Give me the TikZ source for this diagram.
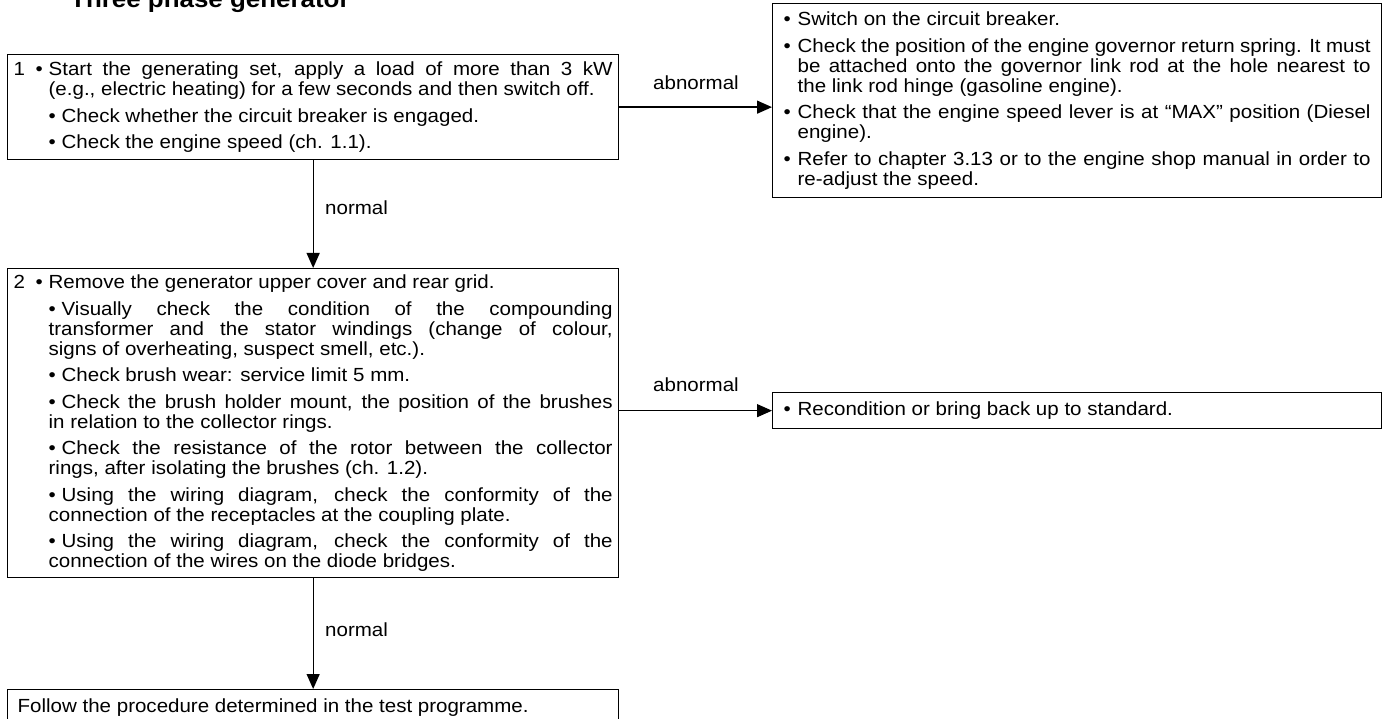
\documentclass[tikz,border=0pt]{standalone}
\usepackage{fontspec}
\setmainfont[FakeStretch=1.08]{Liberation Sans}
\usetikzlibrary{arrows.meta}
\newcommand\fs{\fontsize{19pt}{20pt}\selectfont}
\newcommand\titlefs{\fontsize{24pt}{26pt}\selectfont\bfseries}
\newcommand\JL[2]{\makebox[#1][s]{#2}}
\newcommand\NL[2]{\makebox[#1][l]{#2}}
\newcommand\bul{\makebox[13pt][l]{•}}
\newcommand\hbul{\makebox[14pt][l]{•}}
\begin{document}
\begin{tikzpicture}[x=1pt,y=-1pt,
  box/.style={draw, line width=1.3pt, inner sep=0pt, anchor=north west},
  conn/.style={line width=1.3pt, -{Triangle[length=15pt,width=13pt]}},
  lbl/.style={inner sep=0pt, font=\fs}]
\useasboundingbox (0,0) rectangle (1387,719);

\node[anchor=base west, inner sep=0pt, font=\titlefs] (title) at (70,8) {Three phase generator};

% Box 1
\node[box, minimum width=611pt, minimum height=105pt] (b1) at (7,54) {%
\begin{minipage}{599pt}\fs
\makebox[22pt][l]{1}\makebox[13pt][l]{•}\JL{564pt}{Start the generating set, apply a load of more than 3 kW}\\
\hspace*{35pt}\NL{564pt}{(e.g., electric heating) for a few seconds and then switch off.}\\[6.5pt]
\hspace*{35pt}\NL{564pt}{\bul Check whether the circuit breaker is engaged.}\\[6.5pt]
\hspace*{35pt}\NL{564pt}{\bul Check the engine speed (ch. 1.1).}
\end{minipage}};

% Right box 1
\node[box, minimum width=609pt, minimum height=194pt] (r1) at (772,3) {%
\begin{minipage}{587pt}\fs
\NL{587pt}{\hbul Switch on the circuit breaker.}\\[6.5pt]
\hbul\JL{573pt}{Check the position of the engine governor return spring. It must}\\
\hspace*{14pt}\JL{573pt}{be attached onto the governor link rod at the hole nearest to}\\
\hspace*{14pt}\NL{573pt}{the link rod hinge (gasoline engine).}\\[6.5pt]
\hbul\JL{573pt}{Check that the engine speed lever is at “MAX” position (Diesel}\\
\hspace*{14pt}\NL{573pt}{engine).}\\[6.5pt]
\hbul\JL{573pt}{Refer to chapter 3.13 or to the engine shop manual in order to}\\
\hspace*{14pt}\NL{573pt}{re-adjust the speed.}
\end{minipage}};

% Box 2
\node[box, minimum width=611pt, minimum height=309pt] (b2) at (7,268) {%
\begin{minipage}{599pt}\fs
\makebox[22pt][l]{2}\makebox[13pt][l]{•}\NL{564pt}{Remove the generator upper cover and rear grid.}\\[6.5pt]
\hspace*{35pt}\JL{564pt}{\bul Visually check the condition of the compounding}\\
\hspace*{35pt}\JL{564pt}{transformer and the stator windings (change of colour,}\\
\hspace*{35pt}\NL{564pt}{signs of overheating, suspect smell, etc.).}\\[6.5pt]
\hspace*{35pt}\NL{564pt}{\bul Check brush wear: service limit 5 mm.}\\[6.5pt]
\hspace*{35pt}\JL{564pt}{\bul Check the brush holder mount, the position of the brushes}\\
\hspace*{35pt}\NL{564pt}{in relation to the collector rings.}\\[6.5pt]
\hspace*{35pt}\JL{564pt}{\bul Check the resistance of the rotor between the collector}\\
\hspace*{35pt}\NL{564pt}{rings, after isolating the brushes (ch. 1.2).}\\[6.5pt]
\hspace*{35pt}\JL{564pt}{\bul Using the wiring diagram, check the conformity of the}\\
\hspace*{35pt}\NL{564pt}{connection of the receptacles at the coupling plate.}\\[6.5pt]
\hspace*{35pt}\JL{564pt}{\bul Using the wiring diagram, check the conformity of the}\\
\hspace*{35pt}\NL{564pt}{connection of the wires on the diode bridges.}
\end{minipage}};

% Right box 2
\node[box, minimum width=609pt, minimum height=36pt] (r2) at (772,392) {%
\begin{minipage}{587pt}\fs
\NL{587pt}{\hbul Recondition or bring back up to standard.}
\end{minipage}};

% Bottom box
\node[box, minimum width=611pt, minimum height=36pt] (b3) at (7,689) {%
\begin{minipage}{591pt}\fs
\NL{591pt}{Follow the procedure determined in the test programme.}
\end{minipage}};

% Connectors
\draw[conn] (b1.east) -- (b1.east -| r1.west);
\draw[conn] (b1.south) -- (b2.north);
\draw[conn] (b2.east |- r2.west) -- (r2.west);
\draw[conn] (b2.south) -- (b3.north);

% Labels
\node[lbl] (ab1) at (696,83) {abnormal};
\node[lbl, anchor=west] (n1) at (325,208) {normal};
\node[lbl] (ab2) at (696,385) {abnormal};
\node[lbl, anchor=west] (n2) at (325,630) {normal};
\end{tikzpicture}
\end{document}
